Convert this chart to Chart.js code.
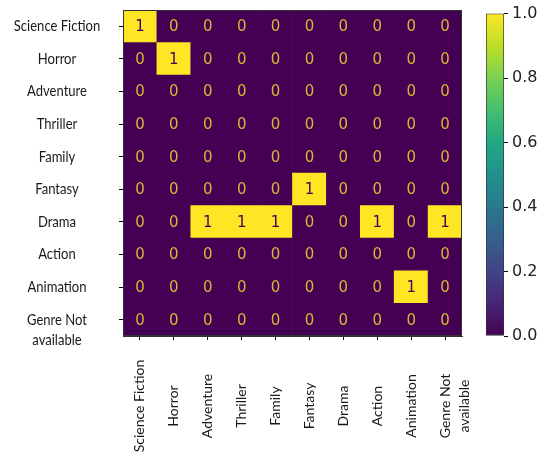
<!DOCTYPE html>
<html>
<head>
<meta charset="utf-8">
<script src="https://cdn.jsdelivr.net/npm/chart.js@4"></script>
<style>
  body { margin: 0; background: #fff; }
  #wrap { position: relative; width: 539px; height: 457px; }
  #heat { position: absolute; left: 0; top: 0; }
  #bar { position: absolute; left: 470px; top: 0; }
</style>
</head>
<body>
<div id="wrap">
  <canvas id="heat" width="470" height="457"></canvas>
  <canvas id="bar" width="69" height="457"></canvas>
</div>
<script>
// DATA
const genres = ['Science Fiction', 'Horror', 'Adventure', 'Thriller', 'Family',
  'Fantasy', 'Drama', 'Action', 'Animation', ['Genre Not', 'available']];

// rows = true genre (top to bottom), columns = predicted genre
const rowSciFi     = [1, 0, 0, 0, 0, 0, 0, 0, 0, 0];
const rowHorror    = [0, 1, 0, 0, 0, 0, 0, 0, 0, 0];
const rowAdventure = [0, 0, 0, 0, 0, 0, 0, 0, 0, 0];
const rowThriller  = [0, 0, 0, 0, 0, 0, 0, 0, 0, 0];
const rowFamily    = [0, 0, 0, 0, 0, 0, 0, 0, 0, 0];
const rowFantasy   = [0, 0, 0, 0, 0, 1, 0, 0, 0, 0];
const rowDrama     = [0, 0, 1, 1, 1, 0, 0, 1, 0, 1];
const rowAction    = [0, 0, 0, 0, 0, 0, 0, 0, 0, 0];
const rowAnimation = [0, 0, 0, 0, 0, 0, 0, 0, 1, 0];
const rowNotAvail  = [0, 0, 0, 0, 0, 0, 0, 0, 0, 0];
const matrix = [rowSciFi, rowHorror, rowAdventure, rowThriller, rowFamily,
  rowFantasy, rowDrama, rowAction, rowAnimation, rowNotAvail];

const colorbarTicks = [0, 0.2, 0.4, 0.6, 0.8, 1.0];

// viridis colormap stops
const viridis = ['#440154', '#482475', '#414487', '#355f8d', '#2a788e',
  '#21918c', '#22a884', '#44bf70', '#7ad151', '#bddf26', '#fde725'];
const rowCenters = genres.map((g, i) => i + 0.5);

const yLabelFont = '15px Lato';
const xLabelFont = '14px Lato';
const cellFont = '15px "DejaVu Sans"';

// HEATMAP
// stack from the bottom row upward, each cell one unit tall
const datasets = matrix.slice().reverse().map((row, k) => ({
  label: 'row' + k,
  data: row.map(() => 1),
  values: row,
  backgroundColor: row.map(v => v ? viridis[10] : viridis[0]),
  borderWidth: 0
}));

const cellText = {
  id: 'cellText',
  afterDatasetsDraw(chart) {
    const c = chart.ctx;
    c.save();
    c.font = cellFont;
    c.textAlign = 'center';
    c.textBaseline = 'middle';
    chart.data.datasets.forEach((ds, di) => {
      chart.getDatasetMeta(di).data.forEach((el, i) => {
        const v = ds.values[i];
        c.fillStyle = v ? '#440154' : '#e0b03a';
        c.fillText(String(v), el.x, (el.y + el.base) / 2 + 1);
      });
    });
    // frame
    const a = chart.chartArea;
    c.strokeStyle = '#333';
    c.lineWidth = 1;
    c.strokeRect(Math.round(a.left) + 0.5, Math.round(a.top) + 0.5,
      Math.round(a.right - a.left) - 1, Math.round(a.bottom - a.top) - 1);
    c.restore();
  },
  afterDraw(chart) {
    const c = chart.ctx;
    const xs = chart.scales.x, ys = chart.scales.y;
    c.save();
    c.fillStyle = '#1a1a1a';
    c.textAlign = 'center';
    c.textBaseline = 'middle';
    // y labels (row names, top row = highest stack), a bit condensed
    c.font = yLabelFont;
    genres.forEach((g, i) => {
      const y = ys.getPixelForValue(9.5 - i);
      const lines = Array.isArray(g) ? g : [g];
      lines.forEach((t, j) => {
        c.save();
        c.translate(57, y + j * 20);
        c.scale(0.87, 1);
        c.fillText(t, 0, 0);
        c.restore();
      });
    });
    // x labels rotated
    c.font = xLabelFont;
    genres.forEach((g, i) => {
      const x = xs.getPixelForValue(i);
      const lines = Array.isArray(g) ? g : [g];
      c.save();
      c.translate(x, 406);
      c.rotate(-Math.PI / 2);
      lines.forEach((t, j) => c.fillText(t, 0, j * 19));
      c.restore();
    });
    c.restore();
  }
};

new Chart(document.getElementById('heat'), {
  type: 'bar',
  data: { labels: genres, datasets: datasets },
  options: {
    responsive: false,
    animation: false,
    layout: { padding: { top: 10, right: 8, left: 0, bottom: 0 } },
    plugins: { legend: { display: false }, tooltip: { enabled: false } },
    datasets: { bar: { barPercentage: 1, categoryPercentage: 1 } },
    scales: {
      x: {
        stacked: true,
        grid: { offset: false, drawOnChartArea: false, drawTicks: true, tickLength: 4, color: '#000' },
        border: { color: '#333' },
        ticks: { display: false },
        afterFit: s => { s.height = 121; }
      },
      y: {
        stacked: true,
        min: 0,
        max: 10,
        afterBuildTicks: axis => { axis.ticks = rowCenters.map(v => ({ value: v })); },
        grid: { drawOnChartArea: false, drawTicks: true, tickLength: 4, color: '#000' },
        border: { color: '#333' },
        ticks: { display: false },
        afterFit: s => { s.width = 123; }
      }
    }
  },
  plugins: [cellText]
});

// COLORBAR
new Chart(document.getElementById('bar'), {
  type: 'bar',
  data: {
    labels: [''],
    datasets: [{
      data: [1],
      borderWidth: 1,
      borderColor: '#333',
      borderSkipped: false,
      backgroundColor: ctx => {
        const a = ctx.chart.chartArea;
        if (!a) return viridis[0];
        const g = ctx.chart.ctx.createLinearGradient(0, a.bottom, 0, a.top);
        viridis.forEach((col, i) => g.addColorStop(i / (viridis.length - 1), col));
        return g;
      }
    }]
  },
  options: {
    responsive: false,
    animation: false,
    layout: { padding: { top: 10, left: 16, right: 0, bottom: 121 } },
    plugins: { legend: { display: false }, tooltip: { enabled: false } },
    datasets: { bar: { barPercentage: 1, categoryPercentage: 1 } },
    scales: {
      x: { display: false },
      y: {
        position: 'right',
        min: 0,
        max: 1,
        afterBuildTicks: axis => { axis.ticks = colorbarTicks.map(v => ({ value: v })); },
        grid: { drawOnChartArea: false, drawTicks: true, tickLength: 4, color: '#000' },
        border: { display: false },
        ticks: {
          padding: 4,
          color: '#222',
          font: { family: 'DejaVu Sans', size: 16 },
          callback: v => v.toFixed(1)
        },
        afterFit: s => { s.width = 35; }
      }
    }
  }
});
</script>
</body>
</html>
